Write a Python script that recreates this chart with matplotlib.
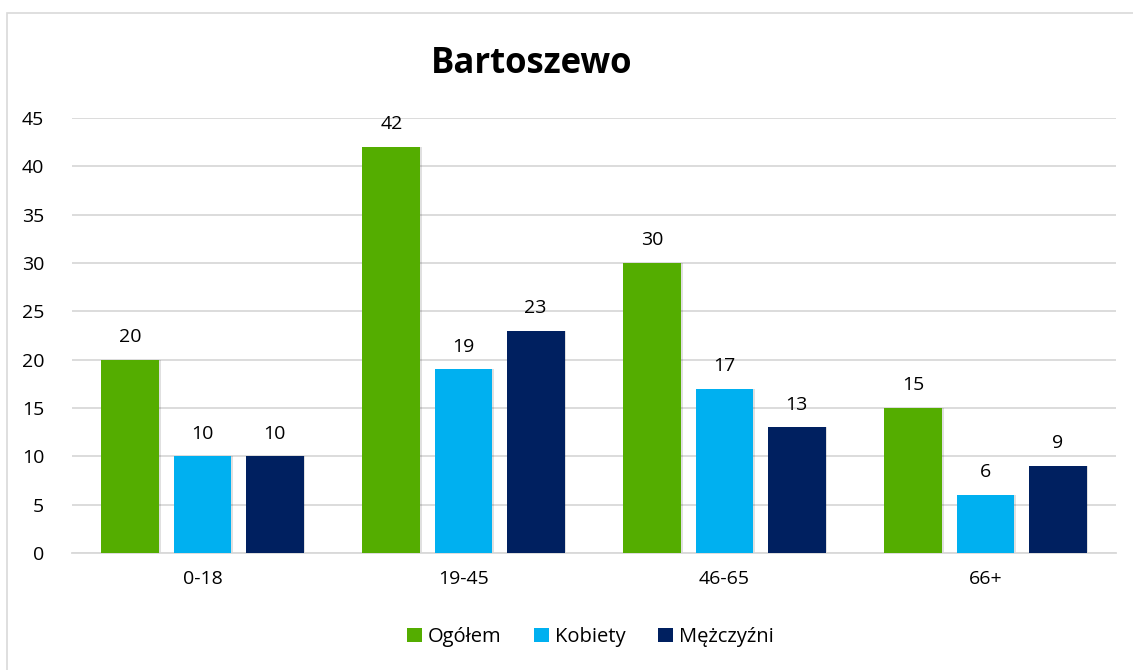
import matplotlib
matplotlib.use('Agg')
import matplotlib.pyplot as plt
import numpy as np
from matplotlib.patches import Rectangle

# Data
categories = ['0-18', '19-45', '46-65', '66+']
ogolem = [20, 42, 30, 15]
kobiety = [10, 19, 17, 6]
mezczyzni = [10, 23, 13, 9]
series_names = ['Ogółem', 'Kobiety', 'Mężczyźni']

colors = ['#54ad00', '#00b0f0', '#002060']

plt.rcParams['font.family'] = ['Open Sans', 'DejaVu Sans']

fig = plt.figure(figsize=(11.33, 6.70), dpi=100)
ax = fig.add_axes([72 / 1133, 1 - 553 / 670, (1116 - 72) / 1133, (553 - 118) / 670])

# chart border
fig.patches.append(Rectangle((7 / 1133, -0.1), 1.2, 1.1 - 13 / 670,
                             transform=fig.transFigure, fill=False,
                             edgecolor='#d9d9d9', linewidth=1.2))

x = np.arange(len(categories))
width = 0.222
offset = 0.276
all_series = [ogolem, kobiety, mezczyzni]
for i, vals in enumerate(all_series):
    pos = x + (i - 1) * offset
    # soft shadow
    ax.bar(pos + 0.006, vals, width, color='#000000', alpha=0.12, zorder=2)
    bars = ax.bar(pos, vals, width, color=colors[i], label=series_names[i], zorder=3)
    for b, v in zip(bars, vals):
        ax.text(b.get_x() + b.get_width() / 2, v + 1.4, str(v), ha='center', va='bottom',
                fontsize=14, color='#000000')

ax.set_xlim(-0.5, 3.5)
ax.set_ylim(0, 45)
ax.set_yticks(range(0, 46, 5))
ax.set_xticks(x)
ax.set_xticklabels(categories)
ax.yaxis.grid(True, color='#d9d9d9', linewidth=1.3, zorder=0)
ax.set_axisbelow(True)
for s in ['top', 'right', 'left']:
    ax.spines[s].set_visible(False)
ax.spines['bottom'].set_color('#d9d9d9')
ax.spines['bottom'].set_linewidth(1.3)
ax.tick_params(axis='both', length=0, labelsize=14, colors='#000000')
ax.tick_params(axis='y', pad=20)
ax.tick_params(axis='x', pad=12)

fig.text(532 / 1133, 1 - 64 / 670, 'Bartoszewo', ha='center', va='center',
         fontsize=25, fontweight='bold')

handles = [h for h in ax.containers[1::2]]
leg = fig.legend(handles, series_names, loc='center', bbox_to_anchor=(590 / 1133, 1 - 637 / 670),
                 ncol=3, frameon=False, fontsize=14.5, handlelength=0.75, handleheight=0.75,
                 handletextpad=0.3, columnspacing=1.6)

fig.savefig('out.png', dpi=100)
